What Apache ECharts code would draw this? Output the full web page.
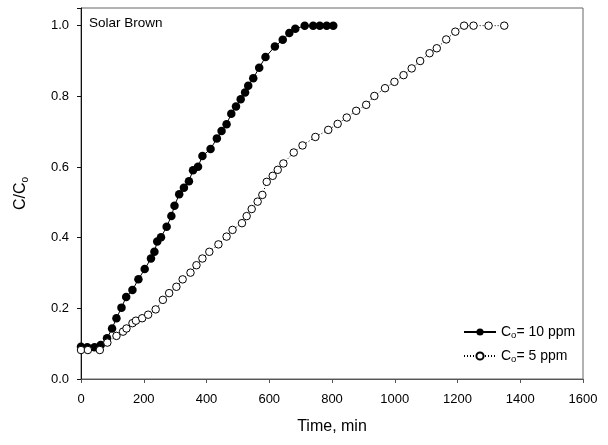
<!DOCTYPE html>
<html>
<head>
<meta charset="utf-8">
<script src="https://cdn.jsdelivr.net/npm/echarts@6/dist/echarts.min.js"></script>
<style>
  html, body { margin: 0; padding: 0; background: #fff; }
  #chart { width: 608px; height: 445px; }
</style>
</head>
<body>
<div id="chart"></div>
<script>
// C/Co breakthrough data, Co = 10 ppm (filled) and Co = 5 ppm (open)
const time10 = [0, 20, 43, 63, 83, 99, 113, 129, 144, 164, 183, 203, 223, 234, 243, 255, 273, 288, 298, 313,
    328, 344, 357, 373, 387, 413, 433, 448, 464, 479, 494, 509, 523, 533, 549, 568, 588, 618, 643, 664,
    683, 713, 740, 761, 783, 804]
const conc10 = [0.091, 0.09, 0.09, 0.096, 0.115, 0.143, 0.172, 0.202, 0.232, 0.252, 0.282, 0.311, 0.341, 0.360, 0.389, 0.401, 0.431, 0.461, 0.490, 0.523,
    0.541, 0.560, 0.591, 0.601, 0.631, 0.651, 0.681, 0.702, 0.721, 0.751, 0.771, 0.792, 0.811, 0.830, 0.851, 0.881, 0.911, 0.941, 0.960, 0.979,
    0.991, 1.0, 1.0, 1.0, 1.0, 1.0]

const time5 = [0, 22, 60, 84, 113, 134, 145, 164, 175, 195, 214, 238, 261, 281, 304, 324, 349, 368, 387, 409,
    438, 464, 483, 513, 528, 544, 563, 578, 592, 611, 627, 645, 678, 706, 747, 788, 818, 847, 877, 909,
    935, 969, 999, 1028, 1054, 1081, 1111, 1134, 1164, 1193, 1221, 1251, 1299, 1349]
const conc5 = [0.082, 0.082, 0.082, 0.103, 0.122, 0.134, 0.143, 0.158, 0.165, 0.172, 0.182, 0.197, 0.224, 0.243, 0.261, 0.282, 0.301, 0.322, 0.341, 0.360,
    0.381, 0.403, 0.422, 0.441, 0.461, 0.481, 0.502, 0.521, 0.558, 0.575, 0.592, 0.610, 0.641, 0.661, 0.685, 0.705, 0.722, 0.740, 0.759, 0.776,
    0.801, 0.823, 0.841, 0.860, 0.879, 0.900, 0.922, 0.936, 0.961, 0.983, 1.0, 1.0, 1.0, 1.0]

const seriesNames = ['Co= 10 ppm', 'Co= 5 ppm']
const legendLabels = { 'Co= 10 ppm': 'C{s|o}= 10 ppm', 'Co= 5 ppm': 'C{s|o}= 5 ppm' }

const font = 'Arial, "Liberation Sans", sans-serif'
const pairs = (xs, ys) => xs.map((x, i) => [x, ys[i]])

const myChart = echarts.init(document.getElementById('chart'))

myChart.setOption({
    animation: false,
    backgroundColor: '#fff',
    textStyle: { fontFamily: font },
    title: {
        text: 'Solar Brown',
        left: 84,
        top: 11,
        textStyle: { fontSize: 13.5, fontWeight: 'normal', color: '#000', fontFamily: font }
    },
    grid: {
        left: 81, right: 25, top: 8, bottom: 66,
        show: true, borderColor: '#666', borderWidth: 1
    },
    legend: {
        data: seriesNames,
        orient: 'vertical',
        left: 458,
        top: 320,
        itemWidth: 32,
        itemHeight: 9,
        itemGap: 9,
        formatter: name => legendLabels[name],
        textStyle: {
            fontSize: 14, color: '#000', fontFamily: font,
            rich: { s: { fontSize: 9.5, verticalAlign: 'bottom', padding: [6, 0, 0, 0], color: '#000' } }
        }
    },
    xAxis: {
        type: 'value',
        min: 0, max: 1600, interval: 200,
        name: 'Time, min',
        nameLocation: 'middle',
        nameGap: 40,
        nameTextStyle: { fontSize: 16, color: '#000', fontFamily: font },
        axisLine: { lineStyle: { color: '#555' } },
        axisTick: { inside: false, length: 4, lineStyle: { color: '#555' } },
        axisLabel: { margin: 14, fontSize: 13, color: '#000', fontFamily: font, formatter: v => String(v) },
        splitLine: { show: false }
    },
    yAxis: {
        type: 'value',
        min: 0, max: 1.05, interval: 0.2,
        name: 'C/C{s|o}',
        nameLocation: 'middle',
        nameGap: 51,
        nameTextStyle: {
            fontSize: 16, color: '#000', fontFamily: font,
            rich: { s: { fontSize: 10, verticalAlign: 'bottom', padding: [8, 0, 0, 0], color: '#000' } }
        },
        axisLine: { lineStyle: { color: '#111' } },
        axisTick: { inside: false, length: 4, lineStyle: { color: '#111' } },
        axisLabel: {
            margin: 12, fontSize: 13, color: '#000', fontFamily: font,
            formatter: v => (v > 1.01 ? '' : v.toFixed(1))
        },
        splitLine: { show: false }
    },
    series: [
        {
            name: seriesNames[0],
            type: 'line',
            data: pairs(time10, conc10),
            symbol: 'circle',
            symbolSize: 8.5,
            itemStyle: { color: '#000', borderColor: '#000', borderWidth: 0 },
            lineStyle: { color: '#000', width: 1, type: 'solid' }
        },
        {
            name: seriesNames[1],
            type: 'line',
            data: pairs(time5, conc5),
            symbol: 'circle',
            symbolSize: 7.5,
            itemStyle: { color: '#fff', borderColor: '#000', borderWidth: 1 },
            lineStyle: { color: '#000', width: 1, type: [1, 2] }
        }
    ]
})
</script>
</body>
</html>
